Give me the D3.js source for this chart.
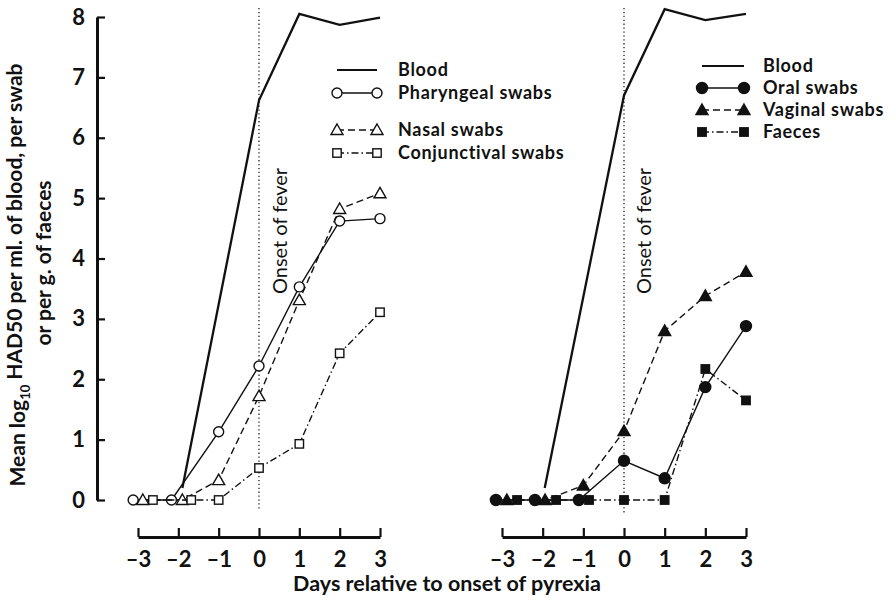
<!DOCTYPE html>
<html>
  <head>
    <meta charset="utf-8">
    <title>HAD50 after onset of pyrexia</title>
    <script src="https://cdn.jsdelivr.net/npm/d3@7/dist/d3.min.js"></script>
    <style>
      body { margin: 0; background: #fff; }
      text { font-family: Lato, "Open Sans", sans-serif; fill: #111; }
    </style>
  </head>
  <body>
    <svg width="894" height="600"></svg>
    <script>
      // tick values
      var dayTicks = [-3, -2, -1, 0, 1, 2, 3];
      var valueTicks = [0, 1, 2, 3, 4, 5, 6, 7, 8];

      // left panel (markers at -3/-2 are shifted side by side in the original)
      var bloodLeftDays = [-1.9, 0, 1, 2, 3];
      var bloodLeftValues = [0.2, 6.62, 8.05, 7.87, 7.99];
      var pharyngealDays = [-3.12, -2.17, -1, 0, 1, 2, 3];
      var pharyngealValues = [0, 0, 1.13, 2.22, 3.53, 4.62, 4.66];
      var nasalDays = [-2.88, -1.9, -1, 0, 1, 2, 3];
      var nasalValues = [0, 0, 0.33, 1.72, 3.31, 4.82, 5.08];
      var conjDays = [-2.63, -1.68, -1, 0, 1, 2, 3];
      var conjValues = [0, 0, 0, 0.53, 0.93, 2.43, 3.11];

      // right panel
      var bloodRightDays = [-1.95, 0, 1, 2, 3];
      var bloodRightValues = [0.2, 6.7, 8.13, 7.95, 8.05];
      var oralDays = [-3.15, -2.19, -1.11, 0, 1, 2, 3];
      var oralValues = [0, 0, 0, 0.65, 0.36, 1.87, 2.88];
      var vaginalDays = [-2.88, -1.94, -1, 0, 1, 2, 3];
      var vaginalValues = [0, 0, 0.24, 1.14, 2.8, 3.38, 3.78];
      var faecesDays = [-2.63, -1.67, -0.86, 0, 1, 2, 3];
      var faecesValues = [0, 0, 0, 0, 0, 2.17, 1.65];

      var svg = d3.select("svg");
      var DASH = "7,4", DASHDOT = "7,3,1.5,3";

      var y = d3.scaleLinear().domain([0, 8]).range([500, 17]);
      var xL = d3.scaleLinear().domain([-3, 3]).range([138, 380]);
      var xR = d3.scaleLinear().domain([-3, 3]).range([502, 746]);

      function zip(xs, ys) {
        return xs.map(function(d, i) { return [d, ys[i]]; });
      }

      // symbol drawing
      function marker(g, type, filled, cx, cy) {
        var fill = filled ? "#111" : "#fff";
        var el;
        if (type == "circle") {
          el = g.append("circle").attr("cx", cx).attr("cy", cy).attr("r", filled ? 5.5 : 5);
        } else if (type == "triangle") {
          var s = 6;
          el = g.append("path").attr("d",
            "M" + cx + "," + (cy - s) + "L" + (cx + s) + "," + (cy + s * 0.75) + "L" + (cx - s) + "," + (cy + s * 0.75) + "Z");
        } else {
          var h = 4.2;
          el = g.append("rect").attr("x", cx - h).attr("y", cy - h).attr("width", h * 2).attr("height", h * 2);
        }
        el.attr("fill", fill).attr("stroke", "#111").attr("stroke-width", 1.4);
      }

      function series(x, days, vals, opt) {
        var pts = zip(days, vals);
        var line = d3.line().x(function(d) { return x(d[0]); }).y(function(d) { return y(d[1]); });
        svg.append("path").datum(pts)
          .attr("d", line)
          .attr("fill", "none")
          .attr("stroke", "#111")
          .attr("stroke-width", opt.width || 1.4)
          .attr("stroke-dasharray", opt.dash || null);
        if (opt.symbol) {
          var g = svg.append("g");
          pts.forEach(function(d) { marker(g, opt.symbol, opt.filled, x(d[0]), y(d[1])); });
        }
      }

      // onset lines
      function onset(x, y0, y1, tx) {
        svg.append("line")
          .attr("x1", x(0)).attr("x2", x(0)).attr("y1", y0).attr("y2", y1)
          .attr("stroke", "#222").attr("stroke-width", 1.3).attr("stroke-dasharray", "1.3,2.6");
        svg.append("text")
          .attr("transform", "translate(" + tx + ",231) rotate(-90)")
          .attr("text-anchor", "middle")
          .style("font-size", "20px")
          .text("Onset of fever");
      }
      onset(xL, 8, 510, 287);
      onset(xR, 8, 513, 651);

      // left panel series
      series(xL, bloodLeftDays, bloodLeftValues, { width: 2.3 });
      series(xL, pharyngealDays, pharyngealValues, { symbol: "circle" });
      series(xL, nasalDays, nasalValues, { symbol: "triangle", dash: DASH });
      series(xL, conjDays, conjValues, { symbol: "square", dash: DASHDOT });

      // right panel series
      series(xR, bloodRightDays, bloodRightValues, { width: 2.3 });
      series(xR, faecesDays, faecesValues, { symbol: "square", filled: true, dash: DASHDOT });
      series(xR, vaginalDays, vaginalValues, { symbol: "triangle", filled: true, dash: DASH });
      series(xR, oralDays, oralValues, { symbol: "circle", filled: true });

      // axes
      var yAxis = d3.axisLeft(y).tickValues(valueTicks).tickSizeInner(-8).tickSizeOuter(0).tickPadding(12);
      var gy = svg.append("g").attr("transform", "translate(97,0)").call(yAxis);

      function dayAxis(x) {
        var ax = d3.axisBottom(x).tickValues(dayTicks).tickSizeInner(-9).tickSizeOuter(0).tickPadding(14)
          .tickFormat(function(d) { return d < 0 ? "\u2013" + (-d) : d; });
        return svg.append("g").attr("transform", "translate(0,537)").call(ax);
      }
      var gxL = dayAxis(xL);
      var gxR = dayAxis(xR);

      [gy, gxL, gxR].forEach(function(g) {
        g.select(".domain").attr("stroke", "#111").attr("stroke-width", 3);
        g.selectAll(".tick line").attr("stroke", "#111").attr("stroke-width", 2.2);
        g.selectAll(".tick text").style("font-family", "Lato, sans-serif")
          .style("font-size", "22px").style("font-weight", "700").attr("fill", "#111");
      });

      // axis titles
      var yt = svg.append("text")
        .attr("transform", "translate(25,275) rotate(-90)")
        .attr("text-anchor", "middle")
        .style("font-size", "21px").style("font-weight", "700");
      yt.append("tspan").text("Mean log");
      yt.append("tspan").attr("dy", "0.35em").style("font-size", "13px").text("10");
      yt.append("tspan").attr("dy", "-0.35em").text(" HAD50 per ml. of blood, per swab");

      svg.append("text")
        .attr("transform", "translate(51,263) rotate(-90)")
        .attr("text-anchor", "middle")
        .style("font-size", "21px").style("font-weight", "700")
        .text("or per g. of faeces");

      svg.append("text")
        .attr("x", 447).attr("y", 591)
        .attr("text-anchor", "middle")
        .style("font-size", "21.5px").style("font-weight", "700")
        .text("Days relative to onset of pyrexia");

      // legends
      function legend(x1, x2, tx, rows, filled) {
        rows.forEach(function(r) {
          svg.append("line")
            .attr("x1", x1).attr("x2", x2).attr("y1", r.y).attr("y2", r.y)
            .attr("stroke", "#111").attr("stroke-width", r.symbol ? 1.4 : 1.8)
            .attr("stroke-dasharray", r.dash || null);
          if (r.symbol) {
            marker(svg, r.symbol, filled, x1, r.y);
            marker(svg, r.symbol, filled, x2, r.y);
          }
          svg.append("text")
            .attr("x", tx).attr("y", r.y + 6)
            .style("font-size", "18px").style("font-weight", "700")
            .style("letter-spacing", "0.7px")
            .text(r.label);
        });
      }
      legend(337, 377, 398, [
        { label: "Blood", y: 70 },
        { label: "Pharyngeal swabs", y: 93 },
        { label: "Nasal swabs", y: 130 },
        { label: "Conjunctival swabs", y: 153 }
      ].map(function(r, i) {
        r.symbol = [null, "circle", "triangle", "square"][i];
        r.dash = [null, null, DASH, DASHDOT][i];
        return r;
      }), false);
      legend(702, 744, 763, [
        { label: "Blood", y: 66 },
        { label: "Oral swabs", y: 88 },
        { label: "Vaginal swabs", y: 110 },
        { label: "Faeces", y: 132 }
      ].map(function(r, i) {
        r.symbol = [null, "circle", "triangle", "square"][i];
        r.dash = [null, null, DASH, DASHDOT][i];
        return r;
      }), true);
    </script>
  </body>
</html>
